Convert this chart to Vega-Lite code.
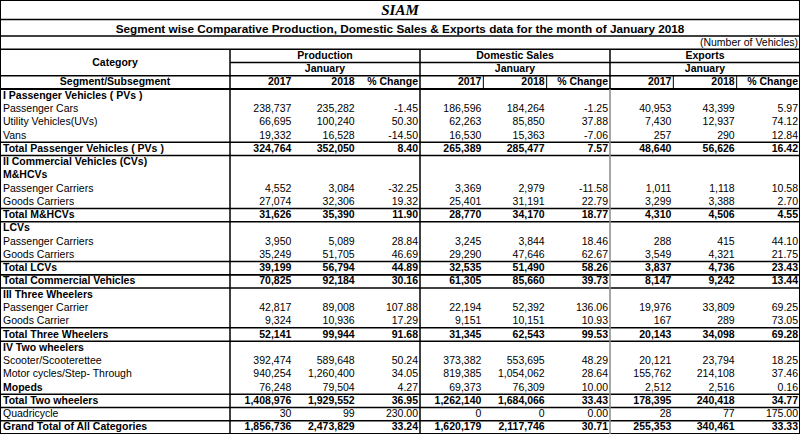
{
  "$schema": "https://vega.github.io/schema/vega-lite/v6.json",
  "width": 800,
  "height": 434,
  "autosize": {"type": "none"},
  "padding": 0,
  "background": "white",
  "datasets": {
    "titles": [
      {"line": "siam", "text": "SIAM"},
      {"line": "title", "text": "Segment wise Comparative Production, Domestic Sales & Exports data for the month of January 2018"},
      {"line": "unit", "text": "(Number of Vehicles)"}
    ],
    "cols": [
      {"col": "p17", "group": "Production", "month": "January", "label": "2017"},
      {"col": "p18", "group": "Production", "month": "January", "label": "2018"},
      {"col": "pc", "group": "Production", "month": "January", "label": "% Change"},
      {"col": "d17", "group": "Domestic Sales", "month": "January", "label": "2017"},
      {"col": "d18", "group": "Domestic Sales", "month": "January", "label": "2018"},
      {"col": "dc", "group": "Domestic Sales", "month": "January", "label": "% Change"},
      {"col": "e17", "group": "Exports", "month": "January", "label": "2017"},
      {"col": "e18", "group": "Exports", "month": "January", "label": "2018"},
      {"col": "ec", "group": "Exports", "month": "January", "label": "% Change"}
    ],
    "rows": [
      {"r": 5, "cat": "I Passenger Vehicles ( PVs )", "kind": "head"},
      {"r": 6, "cat": "Passenger Cars", "kind": "item", "p17": 238737, "p18": 235282, "pc": -1.45, "d17": 186596, "d18": 184264, "dc": -1.25, "e17": 40953, "e18": 43399, "ec": 5.97},
      {"r": 7, "cat": "Utility Vehicles(UVs)", "kind": "item", "p17": 66695, "p18": 100240, "pc": 50.30, "d17": 62263, "d18": 85850, "dc": 37.88, "e17": 7430, "e18": 12937, "ec": 74.12},
      {"r": 8, "cat": "Vans", "kind": "item", "p17": 19332, "p18": 16528, "pc": -14.50, "d17": 16530, "d18": 15363, "dc": -7.06, "e17": 257, "e18": 290, "ec": 12.84},
      {"r": 9, "cat": "Total Passenger Vehicles ( PVs )", "kind": "total", "p17": 324764, "p18": 352050, "pc": 8.40, "d17": 265389, "d18": 285477, "dc": 7.57, "e17": 48640, "e18": 56626, "ec": 16.42},
      {"r": 10, "cat": "II Commercial Vehicles (CVs)", "kind": "head"},
      {"r": 11, "cat": "M&HCVs", "kind": "head"},
      {"r": 12, "cat": "Passenger Carriers", "kind": "item", "p17": 4552, "p18": 3084, "pc": -32.25, "d17": 3369, "d18": 2979, "dc": -11.58, "e17": 1011, "e18": 1118, "ec": 10.58},
      {"r": 13, "cat": "Goods Carriers", "kind": "item", "p17": 27074, "p18": 32306, "pc": 19.32, "d17": 25401, "d18": 31191, "dc": 22.79, "e17": 3299, "e18": 3388, "ec": 2.70},
      {"r": 14, "cat": "Total M&HCVs", "kind": "total", "p17": 31626, "p18": 35390, "pc": 11.90, "d17": 28770, "d18": 34170, "dc": 18.77, "e17": 4310, "e18": 4506, "ec": 4.55},
      {"r": 15, "cat": "LCVs", "kind": "head"},
      {"r": 16, "cat": "Passenger Carriers", "kind": "item", "p17": 3950, "p18": 5089, "pc": 28.84, "d17": 3245, "d18": 3844, "dc": 18.46, "e17": 288, "e18": 415, "ec": 44.10},
      {"r": 17, "cat": "Goods Carriers", "kind": "item", "p17": 35249, "p18": 51705, "pc": 46.69, "d17": 29290, "d18": 47646, "dc": 62.67, "e17": 3549, "e18": 4321, "ec": 21.75},
      {"r": 18, "cat": "Total LCVs", "kind": "total", "p17": 39199, "p18": 56794, "pc": 44.89, "d17": 32535, "d18": 51490, "dc": 58.26, "e17": 3837, "e18": 4736, "ec": 23.43},
      {"r": 19, "cat": "Total  Commercial Vehicles", "kind": "total", "p17": 70825, "p18": 92184, "pc": 30.16, "d17": 61305, "d18": 85660, "dc": 39.73, "e17": 8147, "e18": 9242, "ec": 13.44},
      {"r": 20, "cat": "III Three Wheelers", "kind": "head"},
      {"r": 21, "cat": "Passenger Carrier", "kind": "item", "p17": 42817, "p18": 89008, "pc": 107.88, "d17": 22194, "d18": 52392, "dc": 136.06, "e17": 19976, "e18": 33809, "ec": 69.25},
      {"r": 22, "cat": "Goods Carrier", "kind": "item", "p17": 9324, "p18": 10936, "pc": 17.29, "d17": 9151, "d18": 10151, "dc": 10.93, "e17": 167, "e18": 289, "ec": 73.05},
      {"r": 23, "cat": "Total Three Wheelers", "kind": "total", "p17": 52141, "p18": 99944, "pc": 91.68, "d17": 31345, "d18": 62543, "dc": 99.53, "e17": 20143, "e18": 34098, "ec": 69.28},
      {"r": 24, "cat": "IV Two wheelers", "kind": "head"},
      {"r": 25, "cat": "Scooter/Scooterettee", "kind": "item", "p17": 392474, "p18": 589648, "pc": 50.24, "d17": 373382, "d18": 553695, "dc": 48.29, "e17": 20121, "e18": 23794, "ec": 18.25},
      {"r": 26, "cat": "Motor cycles/Step- Through", "kind": "item", "p17": 940254, "p18": 1260400, "pc": 34.05, "d17": 819385, "d18": 1054062, "dc": 28.64, "e17": 155762, "e18": 214108, "ec": 37.46},
      {"r": 27, "cat": "Mopeds", "kind": "item", "p17": 76248, "p18": 79504, "pc": 4.27, "d17": 69373, "d18": 76309, "dc": 10.00, "e17": 2512, "e18": 2516, "ec": 0.16},
      {"r": 28, "cat": "Total Two wheelers", "kind": "total", "p17": 1408976, "p18": 1929552, "pc": 36.95, "d17": 1262140, "d18": 1684066, "dc": 33.43, "e17": 178395, "e18": 240418, "ec": 34.77},
      {"r": 29, "cat": "Quadricycle", "kind": "item", "p17": 30, "p18": 99, "pc": 230.00, "d17": 0, "d18": 0, "dc": 0.00, "e17": 28, "e18": 77, "ec": 175.00},
      {"r": 30, "cat": "Grand Total of All Categories", "kind": "total", "p17": 1856736, "p18": 2473829, "pc": 33.24, "d17": 1620179, "d18": 2117746, "dc": 30.71, "e17": 255353, "e18": 340461, "ec": 33.33}
    ]
  },
  "resolve": {"scale": {"x": "independent", "y": "independent"}},
  "layer": [
    {
      "data": {"name": "titles"},
      "transform": [{"filter": "datum.line == 'siam'"}],
      "mark": {"type": "text", "font": "Liberation Serif", "fontStyle": "italic", "fontWeight": "bold", "fontSize": 15},
      "encoding": {
        "y": {"field": "line", "type": "nominal", "scale": {"type": "band", "domain": ["siam", "title"], "range": [1, 38], "paddingInner": 0, "paddingOuter": 0}},
        "text": {"field": "text"}
      }
    },
    {
      "data": {"name": "titles"},
      "transform": [{"filter": "datum.line == 'title'"}],
      "mark": {"type": "text", "fontWeight": "bold", "fontSize": 11.75},
      "encoding": {
        "y": {"field": "line", "type": "nominal", "scale": {"type": "band", "domain": ["siam", "title"], "range": [1, 38], "paddingInner": 0, "paddingOuter": 0}},
        "text": {"field": "text"}
      }
    },
    {
      "data": {"values": [{}]},
      "mark": {"type": "rule"},
      "encoding": {
        "y": {"datum": "title", "type": "nominal", "bandPosition": 0, "scale": {"type": "band", "domain": ["siam", "title"], "range": [1, 38], "paddingInner": 0, "paddingOuter": 0}}
      }
    },
    {
      "data": {"name": "titles"},
      "transform": [{"filter": "datum.line == 'unit'"}],
      "mark": {"type": "text", "align": "right", "dx": -2},
      "encoding": {
        "x": {"datum": "ec", "type": "nominal", "bandPosition": 1, "scale": {"type": "band", "domain": ["p17", "p18", "pc", "d17", "d18", "dc", "e17", "e18", "ec"], "range": [230, 800], "paddingInner": 0, "paddingOuter": 0}},
        "y": {"datum": 1, "type": "ordinal", "scale": {"type": "band", "domain": [1,2,3,4,5,6,7,8,9,10,11,12,13,14,15,16,17,18,19,20,21,22,23,24,25,26,27,28,29,30], "range": [36, 434], "paddingInner": 0, "paddingOuter": 0}},
        "text": {"field": "text"}
      }
    },
    {
      "data": {"name": "cols"},
      "transform": [{"filter": "datum.label == '2018'"}],
      "mark": {"type": "text", "fontWeight": "bold"},
      "encoding": {
        "x": {"field": "col", "type": "nominal", "scale": {"type": "band", "domain": ["p17", "p18", "pc", "d17", "d18", "dc", "e17", "e18", "ec"], "range": [230, 800], "paddingInner": 0, "paddingOuter": 0}},
        "y": {"datum": 2, "type": "ordinal", "scale": {"type": "band", "domain": [1,2,3,4,5,6,7,8,9,10,11,12,13,14,15,16,17,18,19,20,21,22,23,24,25,26,27,28,29,30], "range": [36, 434], "paddingInner": 0, "paddingOuter": 0}},
        "text": {"field": "group"}
      }
    },
    {
      "data": {"name": "cols"},
      "transform": [{"filter": "datum.label == '2018'"}],
      "mark": {"type": "text", "fontWeight": "bold"},
      "encoding": {
        "x": {"field": "col", "type": "nominal", "scale": {"type": "band", "domain": ["p17", "p18", "pc", "d17", "d18", "dc", "e17", "e18", "ec"], "range": [230, 800], "paddingInner": 0, "paddingOuter": 0}},
        "y": {"datum": 3, "type": "ordinal", "scale": {"type": "band", "domain": [1,2,3,4,5,6,7,8,9,10,11,12,13,14,15,16,17,18,19,20,21,22,23,24,25,26,27,28,29,30], "range": [36, 434], "paddingInner": 0, "paddingOuter": 0}},
        "text": {"field": "month"}
      }
    },
    {
      "data": {"name": "cols"},
      "mark": {"type": "text", "fontWeight": "bold", "align": "right", "dx": -2},
      "encoding": {
        "x": {"field": "col", "type": "nominal", "bandPosition": 1, "scale": {"type": "band", "domain": ["p17", "p18", "pc", "d17", "d18", "dc", "e17", "e18", "ec"], "range": [230, 800], "paddingInner": 0, "paddingOuter": 0}},
        "y": {"datum": 4, "type": "ordinal", "scale": {"type": "band", "domain": [1,2,3,4,5,6,7,8,9,10,11,12,13,14,15,16,17,18,19,20,21,22,23,24,25,26,27,28,29,30], "range": [36, 434], "paddingInner": 0, "paddingOuter": 0}},
        "text": {"field": "label"}
      }
    },
    {
      "data": {"values": [{}]},
      "mark": {"type": "text", "fontWeight": "bold", "text": "Category"},
      "encoding": {
        "x": {"datum": "cat", "type": "nominal", "scale": {"type": "band", "domain": ["cat"], "range": [0, 230], "paddingInner": 0, "paddingOuter": 0}},
        "y": {"datum": 2, "type": "ordinal", "bandPosition": 1, "scale": {"type": "band", "domain": [1,2,3,4,5,6,7,8,9,10,11,12,13,14,15,16,17,18,19,20,21,22,23,24,25,26,27,28,29,30], "range": [36, 434], "paddingInner": 0, "paddingOuter": 0}}
      }
    },
    {
      "data": {"values": [{}]},
      "mark": {"type": "text", "fontWeight": "bold", "text": "Segment/Subsegment"},
      "encoding": {
        "x": {"datum": "cat", "type": "nominal", "scale": {"type": "band", "domain": ["cat"], "range": [0, 230], "paddingInner": 0, "paddingOuter": 0}},
        "y": {"datum": 4, "type": "ordinal", "scale": {"type": "band", "domain": [1,2,3,4,5,6,7,8,9,10,11,12,13,14,15,16,17,18,19,20,21,22,23,24,25,26,27,28,29,30], "range": [36, 434], "paddingInner": 0, "paddingOuter": 0}}
      }
    },
    {
      "data": {"name": "rows"},
      "transform": [{"filter": "datum.kind == 'item' && datum.cat != 'Mopeds'"}],
      "mark": {"type": "text", "align": "left", "dx": 3},
      "encoding": {
        "x": {"datum": "cat", "type": "nominal", "bandPosition": 0, "scale": {"type": "band", "domain": ["cat"], "range": [0, 230], "paddingInner": 0, "paddingOuter": 0}},
        "y": {"field": "r", "type": "ordinal", "scale": {"type": "band", "domain": [1,2,3,4,5,6,7,8,9,10,11,12,13,14,15,16,17,18,19,20,21,22,23,24,25,26,27,28,29,30], "range": [36, 434], "paddingInner": 0, "paddingOuter": 0}},
        "text": {"field": "cat"}
      }
    },
    {
      "data": {"name": "rows"},
      "transform": [{"filter": "datum.kind != 'item' || datum.cat == 'Mopeds'"}],
      "mark": {"type": "text", "align": "left", "dx": 3, "fontWeight": "bold"},
      "encoding": {
        "x": {"datum": "cat", "type": "nominal", "bandPosition": 0, "scale": {"type": "band", "domain": ["cat"], "range": [0, 230], "paddingInner": 0, "paddingOuter": 0}},
        "y": {"field": "r", "type": "ordinal", "scale": {"type": "band", "domain": [1,2,3,4,5,6,7,8,9,10,11,12,13,14,15,16,17,18,19,20,21,22,23,24,25,26,27,28,29,30], "range": [36, 434], "paddingInner": 0, "paddingOuter": 0}},
        "text": {"field": "cat"}
      }
    },
    {
      "data": {"name": "rows"},
      "transform": [
        {"filter": "datum.kind == 'item'"},
        {"fold": ["p17", "p18", "d17", "d18", "e17", "e18"], "as": ["col", "value"]},
        {"filter": "isValid(datum.value)"}
      ],
      "mark": {"type": "text", "align": "right", "dx": -2},
      "encoding": {
        "x": {"field": "col", "type": "nominal", "bandPosition": 1, "scale": {"type": "band", "domain": ["p17", "p18", "pc", "d17", "d18", "dc", "e17", "e18", "ec"], "range": [230, 800], "paddingInner": 0, "paddingOuter": 0}},
        "y": {"field": "r", "type": "ordinal", "scale": {"type": "band", "domain": [1,2,3,4,5,6,7,8,9,10,11,12,13,14,15,16,17,18,19,20,21,22,23,24,25,26,27,28,29,30], "range": [36, 434], "paddingInner": 0, "paddingOuter": 0}},
        "text": {"field": "value", "type": "quantitative", "format": ","}
      }
    },
    {
      "data": {"name": "rows"},
      "transform": [
        {"filter": "datum.kind == 'total'"},
        {"fold": ["p17", "p18", "d17", "d18", "e17", "e18"], "as": ["col", "value"]},
        {"filter": "isValid(datum.value)"}
      ],
      "mark": {"type": "text", "align": "right", "dx": -2, "fontWeight": "bold"},
      "encoding": {
        "x": {"field": "col", "type": "nominal", "bandPosition": 1, "scale": {"type": "band", "domain": ["p17", "p18", "pc", "d17", "d18", "dc", "e17", "e18", "ec"], "range": [230, 800], "paddingInner": 0, "paddingOuter": 0}},
        "y": {"field": "r", "type": "ordinal", "scale": {"type": "band", "domain": [1,2,3,4,5,6,7,8,9,10,11,12,13,14,15,16,17,18,19,20,21,22,23,24,25,26,27,28,29,30], "range": [36, 434], "paddingInner": 0, "paddingOuter": 0}},
        "text": {"field": "value", "type": "quantitative", "format": ","}
      }
    },
    {
      "data": {"name": "rows"},
      "transform": [
        {"filter": "datum.kind == 'item'"},
        {"fold": ["pc", "dc", "ec"], "as": ["col", "value"]},
        {"filter": "isValid(datum.value)"}
      ],
      "mark": {"type": "text", "align": "right", "dx": -2},
      "encoding": {
        "x": {"field": "col", "type": "nominal", "bandPosition": 1, "scale": {"type": "band", "domain": ["p17", "p18", "pc", "d17", "d18", "dc", "e17", "e18", "ec"], "range": [230, 800], "paddingInner": 0, "paddingOuter": 0}},
        "y": {"field": "r", "type": "ordinal", "scale": {"type": "band", "domain": [1,2,3,4,5,6,7,8,9,10,11,12,13,14,15,16,17,18,19,20,21,22,23,24,25,26,27,28,29,30], "range": [36, 434], "paddingInner": 0, "paddingOuter": 0}},
        "text": {"field": "value", "type": "quantitative", "format": ".2f"}
      }
    },
    {
      "data": {"name": "rows"},
      "transform": [
        {"filter": "datum.kind == 'total'"},
        {"fold": ["pc", "dc", "ec"], "as": ["col", "value"]},
        {"filter": "isValid(datum.value)"}
      ],
      "mark": {"type": "text", "align": "right", "dx": -2, "fontWeight": "bold"},
      "encoding": {
        "x": {"field": "col", "type": "nominal", "bandPosition": 1, "scale": {"type": "band", "domain": ["p17", "p18", "pc", "d17", "d18", "dc", "e17", "e18", "ec"], "range": [230, 800], "paddingInner": 0, "paddingOuter": 0}},
        "y": {"field": "r", "type": "ordinal", "scale": {"type": "band", "domain": [1,2,3,4,5,6,7,8,9,10,11,12,13,14,15,16,17,18,19,20,21,22,23,24,25,26,27,28,29,30], "range": [36, 434], "paddingInner": 0, "paddingOuter": 0}},
        "text": {"field": "value", "type": "quantitative", "format": ".2f"}
      }
    },
    {
      "data": {"values": [{}]},
      "mark": {"type": "rule"},
      "encoding": {
        "y": {"datum": 1, "type": "ordinal", "bandPosition": 0, "scale": {"type": "band", "domain": [1,2,3,4,5,6,7,8,9,10,11,12,13,14,15,16,17,18,19,20,21,22,23,24,25,26,27,28,29,30], "range": [36, 434], "paddingInner": 0, "paddingOuter": 0}}
      }
    },
    {
      "data": {"values": [{}]},
      "mark": {"type": "rule"},
      "encoding": {
        "y": {"datum": 2, "type": "ordinal", "bandPosition": 0, "scale": {"type": "band", "domain": [1,2,3,4,5,6,7,8,9,10,11,12,13,14,15,16,17,18,19,20,21,22,23,24,25,26,27,28,29,30], "range": [36, 434], "paddingInner": 0, "paddingOuter": 0}}
      }
    },
    {
      "data": {"values": [{}]},
      "mark": {"type": "rule"},
      "encoding": {
        "y": {"datum": 4, "type": "ordinal", "bandPosition": 0, "scale": {"type": "band", "domain": [1,2,3,4,5,6,7,8,9,10,11,12,13,14,15,16,17,18,19,20,21,22,23,24,25,26,27,28,29,30], "range": [36, 434], "paddingInner": 0, "paddingOuter": 0}}
      }
    },
    {
      "data": {"values": [{}]},
      "mark": {"type": "rule", "strokeWidth": 2},
      "encoding": {
        "y": {"datum": 4, "type": "ordinal", "bandPosition": 1, "scale": {"type": "band", "domain": [1,2,3,4,5,6,7,8,9,10,11,12,13,14,15,16,17,18,19,20,21,22,23,24,25,26,27,28,29,30], "range": [36, 434], "paddingInner": 0, "paddingOuter": 0}}
      }
    },
    {
      "data": {"values": [{}]},
      "mark": {"type": "rule"},
      "encoding": {
        "x": {"datum": "p17", "type": "nominal", "bandPosition": 0, "scale": {"type": "band", "domain": ["p17", "p18", "pc", "d17", "d18", "dc", "e17", "e18", "ec"], "range": [230, 800], "paddingInner": 0, "paddingOuter": 0}},
        "x2": {"datum": "ec", "bandPosition": 1},
        "y": {"datum": 3, "type": "ordinal", "bandPosition": 0, "scale": {"type": "band", "domain": [1,2,3,4,5,6,7,8,9,10,11,12,13,14,15,16,17,18,19,20,21,22,23,24,25,26,27,28,29,30], "range": [36, 434], "paddingInner": 0, "paddingOuter": 0}}
      }
    },
    {
      "data": {"name": "rows"},
      "transform": [{"filter": "datum.kind == 'total'"}],
      "mark": {"type": "rule"},
      "encoding": {
        "y": {"field": "r", "type": "ordinal", "bandPosition": 0, "scale": {"type": "band", "domain": [1,2,3,4,5,6,7,8,9,10,11,12,13,14,15,16,17,18,19,20,21,22,23,24,25,26,27,28,29,30], "range": [36, 434], "paddingInner": 0, "paddingOuter": 0}}
      }
    },
    {
      "data": {"name": "rows"},
      "transform": [{"filter": "datum.kind == 'total'"}],
      "mark": {"type": "rule"},
      "encoding": {
        "y": {"field": "r", "type": "ordinal", "bandPosition": 1, "scale": {"type": "band", "domain": [1,2,3,4,5,6,7,8,9,10,11,12,13,14,15,16,17,18,19,20,21,22,23,24,25,26,27,28,29,30], "range": [36, 434], "paddingInner": 0, "paddingOuter": 0}}
      }
    },
    {
      "data": {"values": [{}]},
      "mark": {"type": "rule"},
      "encoding": {
        "x": {"datum": "cat", "type": "nominal", "bandPosition": 1, "scale": {"type": "band", "domain": ["cat"], "range": [0, 230], "paddingInner": 0, "paddingOuter": 0}},
        "y": {"datum": 2, "type": "ordinal", "bandPosition": 0, "scale": {"type": "band", "domain": [1,2,3,4,5,6,7,8,9,10,11,12,13,14,15,16,17,18,19,20,21,22,23,24,25,26,27,28,29,30], "range": [36, 434], "paddingInner": 0, "paddingOuter": 0}},
        "y2": {"datum": 30, "bandPosition": 1}
      }
    },
    {
      "data": {"name": "cols"},
      "transform": [{"filter": "datum.label == '% Change' && datum.col != 'ec'"}],
      "mark": {"type": "rule"},
      "encoding": {
        "x": {"field": "col", "type": "nominal", "bandPosition": 1, "scale": {"type": "band", "domain": ["p17", "p18", "pc", "d17", "d18", "dc", "e17", "e18", "ec"], "range": [230, 800], "paddingInner": 0, "paddingOuter": 0}},
        "y": {"datum": 2, "type": "ordinal", "bandPosition": 0, "scale": {"type": "band", "domain": [1,2,3,4,5,6,7,8,9,10,11,12,13,14,15,16,17,18,19,20,21,22,23,24,25,26,27,28,29,30], "range": [36, 434], "paddingInner": 0, "paddingOuter": 0}},
        "y2": {"datum": 4, "bandPosition": 1}
      }
    },
    {
      "data": {"name": "cols"},
      "transform": [{"filter": "datum.label == '% Change' && datum.group == 'Production'"}],
      "mark": {"type": "rule"},
      "encoding": {
        "x": {"field": "col", "type": "nominal", "bandPosition": 1, "scale": {"type": "band", "domain": ["p17", "p18", "pc", "d17", "d18", "dc", "e17", "e18", "ec"], "range": [230, 800], "paddingInner": 0, "paddingOuter": 0}},
        "y": {"datum": 5, "type": "ordinal", "bandPosition": 0, "scale": {"type": "band", "domain": [1,2,3,4,5,6,7,8,9,10,11,12,13,14,15,16,17,18,19,20,21,22,23,24,25,26,27,28,29,30], "range": [36, 434], "paddingInner": 0, "paddingOuter": 0}},
        "y2": {"datum": 30, "bandPosition": 1}
      }
    },
    {
      "data": {"name": "cols"},
      "transform": [{"filter": "datum.label == '% Change' && datum.group == 'Domestic Sales'"}],
      "mark": {"type": "rule", "color": "#8a8a8a"},
      "encoding": {
        "x": {"field": "col", "type": "nominal", "bandPosition": 1, "scale": {"type": "band", "domain": ["p17", "p18", "pc", "d17", "d18", "dc", "e17", "e18", "ec"], "range": [230, 800], "paddingInner": 0, "paddingOuter": 0}},
        "y": {"datum": 5, "type": "ordinal", "bandPosition": 0, "scale": {"type": "band", "domain": [1,2,3,4,5,6,7,8,9,10,11,12,13,14,15,16,17,18,19,20,21,22,23,24,25,26,27,28,29,30], "range": [36, 434], "paddingInner": 0, "paddingOuter": 0}},
        "y2": {"datum": 30, "bandPosition": 1}
      }
    },
    {
      "data": {"name": "cols"},
      "transform": [{"filter": "datum.group != 'Production' && datum.label != '% Change'"}],
      "mark": {"type": "rule", "strokeWidth": 1},
      "encoding": {
        "x": {"field": "col", "type": "nominal", "bandPosition": 1, "scale": {"type": "band", "domain": ["p17", "p18", "pc", "d17", "d18", "dc", "e17", "e18", "ec"], "range": [230, 800], "paddingInner": 0, "paddingOuter": 0}},
        "y": {"datum": 4, "type": "ordinal", "bandPosition": 0, "scale": {"type": "band", "domain": [1,2,3,4,5,6,7,8,9,10,11,12,13,14,15,16,17,18,19,20,21,22,23,24,25,26,27,28,29,30], "range": [36, 434], "paddingInner": 0, "paddingOuter": 0}},
        "y2": {"datum": 4, "bandPosition": 1}
      }
    }
  ],
  "config": {
    "font": "Liberation Sans",
    "text": {"font": "Liberation Sans", "fontSize": 10.5, "color": "#000", "baseline": "middle"},
    "rule": {"color": "#000", "strokeWidth": 1.5},
    "axis": {"disable": true},
    "view": {"stroke": "#000", "strokeWidth": 2},
    "locale": {"number": {"decimal": ".", "thousands": ",", "grouping": [3], "currency": ["$", ""], "minus": "-"}}
  }
}
